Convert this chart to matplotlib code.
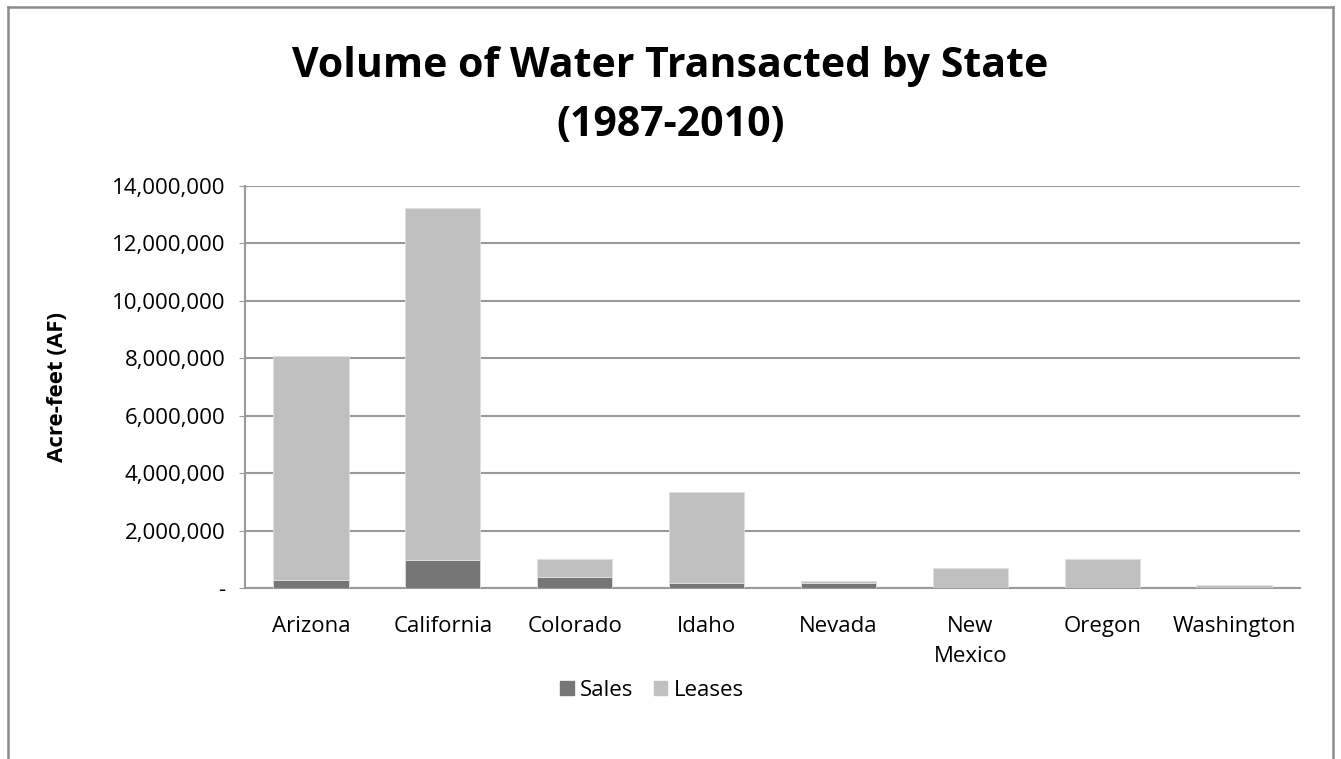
import matplotlib
matplotlib.use("Agg")
import matplotlib.pyplot as plt
from matplotlib.ticker import FuncFormatter
from matplotlib.patches import Rectangle
from matplotlib.lines import Line2D

states = ["Arizona", "California", "Colorado", "Idaho", "Nevada", "New\nMexico", "Oregon", "Washington"]
sales = [290000, 960000, 370000, 190000, 165000, 10000, 10000, 5000]
totals = [8070000, 13230000, 1020000, 3360000, 255000, 680000, 1020000, 100000]
leases = [t - s for t, s in zip(totals, sales)]
yticks = [0, 2000000, 4000000, 6000000, 8000000, 10000000, 12000000, 14000000]

plt.rcParams['font.family'] = ['Open Sans', 'DejaVu Sans']

fig = plt.figure(figsize=(13.41, 7.59), dpi=100)
ax = fig.add_axes([245/1341, 1 - 588/759, (1300-245)/1341, (588-186)/759])

x = list(range(len(states)))
c_sales = "#767676"
c_leases = "#C0C0C0"
ax.bar(x, sales, width=0.57, color=c_sales, edgecolor="#e0e0e0", linewidth=0.6, label="Sales", zorder=3)
ax.bar(x, leases, width=0.57, bottom=sales, color=c_leases, edgecolor="#e0e0e0", linewidth=0.6, label="Leases", zorder=3)

ax.set_xlim(-0.5, len(states) - 0.5)
ax.set_ylim(0, 14000000)
ax.set_yticks(yticks)
ax.yaxis.set_major_formatter(FuncFormatter(lambda v, p: "-" if v == 0 else f"{int(v):,}"))
ax.grid(axis="y", color="#9a9a9a", linewidth=1.5, zorder=0)
ax.set_axisbelow(True)
for s in ["top", "right"]:
    ax.spines[s].set_visible(False)
ax.spines["left"].set_color("#9a9a9a")
ax.spines["left"].set_linewidth(1.5)
ax.spines["bottom"].set_color("#9a9a9a")
ax.spines["bottom"].set_linewidth(1.5)
ax.tick_params(axis="y", length=4, color="#9a9a9a", labelsize=16, pad=10)
ax.tick_params(axis="x", length=0, labelsize=16, pad=20)
ax.set_xticks(x)
ax.set_xticklabels(states, linespacing=1.6)
ax.set_ylabel("Acre-feet (AF)", fontsize=16, fontweight="bold")
ax.yaxis.set_label_coords((68 - 245) / 1055, 0.5)

fig.text(0.5, 1 - 96/759, "Volume of Water Transacted by State\n(1987-2010)", ha="center", va="center",
         fontsize=29.5, fontweight="bold", linespacing=1.55)

handles = [Rectangle((0, 0), 1, 1, color=c_sales), Rectangle((0, 0), 1, 1, color=c_leases)]
fig.legend(handles, ["Sales", "Leases"], loc="center", bbox_to_anchor=(652/1341, 1 - 690/759), ncol=2,
           frameon=False, fontsize=16, handlelength=0.6, handleheight=0.6, handletextpad=0.3, columnspacing=0.9)

# outer chart border (bottom cut off)
bc = "#8c8c8c"
fig.add_artist(Line2D([8/1341, 8/1341], [0, 1 - 7/759], color=bc, linewidth=1.8, transform=fig.transFigure))
fig.add_artist(Line2D([8/1341, 1333/1341], [1 - 7/759, 1 - 7/759], color=bc, linewidth=1.8, transform=fig.transFigure))
fig.add_artist(Line2D([1333/1341, 1333/1341], [0, 1 - 7/759], color=bc, linewidth=1.8, transform=fig.transFigure))

fig.savefig("out.png", dpi=100)
